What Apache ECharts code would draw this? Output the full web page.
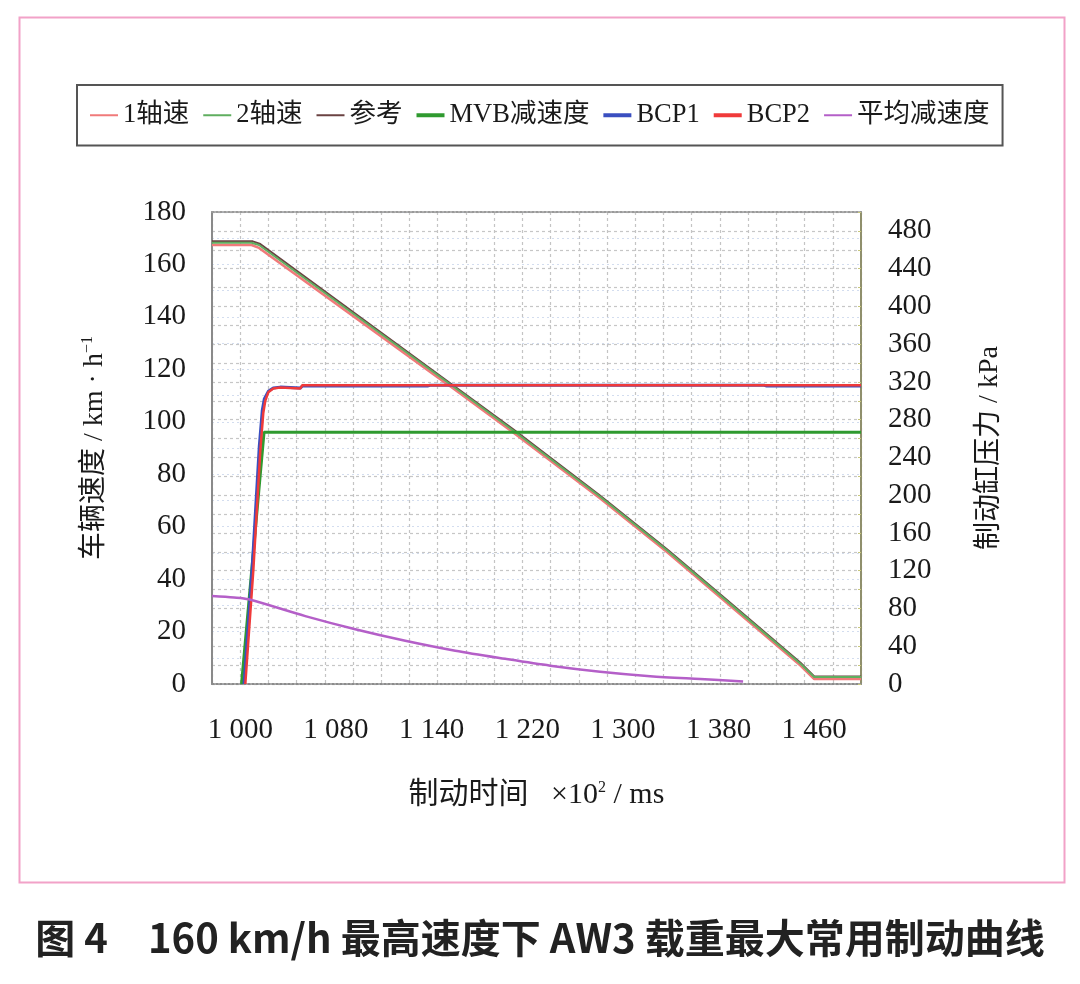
<!DOCTYPE html>
<html>
<head>
<meta charset="utf-8">
<script src="https://cdn.jsdelivr.net/npm/echarts@6/dist/echarts.min.js"></script>
<style>
html,body{margin:0;padding:0;background:#fff;}
#chart{width:1080px;height:984px;}
</style>
</head>
<body>
<div id="chart"></div>
<script>
// ---- data (x: braking time, ×10² ms ; speeds in km/h ; pressures in kPa) ----
var xTickValues = [1000, 1076.67, 1153.33, 1230, 1306.67, 1383.33, 1460];
var xTickLabels = ['1 000', '1 080', '1 140', '1 220', '1 300', '1 380', '1 460'];
var leftTicks = [0, 20, 40, 60, 80, 100, 120, 140, 160, 180];
var rightTicks = [0, 40, 80, 120, 160, 200, 240, 280, 320, 360, 400, 440, 480];
var seriesNames = ['1轴速', '2轴速', '参考', 'MVB减速度', 'BCP1', 'BCP2', '平均减速度'];

var axle1Speed = [[977.3,167.4],[1009,167.4],[1015,166.3],[1168,113.6],[1219,95.8],[1288,70.9],[1342,50.3],[1395,28.9],[1449,7.0],[1460,1.9],[1497.5,1.9]];
var axle2Speed = [[977.3,168.3],[1009,168.3],[1015,167.4],[1168,114.4],[1219,96.6],[1288,71.6],[1342,51.0],[1395,29.6],[1449,7.7],[1460,2.7],[1497.5,2.7]];
var refSpeed   = [[977.3,168.8],[1010,168.8],[1016,167.8],[1168,114.8],[1219,97.0],[1288,72.0],[1342,51.4],[1395,30.0],[1449,8.1],[1460,2.9],[1497.5,2.9]];
var mvbDecel   = [[1001,0],[1019,96],[1497.5,96]];
var bcp1       = [[1003,0],[1009.6,125],[1015.2,252],[1017.6,290],[1019.2,302],[1022.4,310],[1026.4,313.5],[1032,314.5],[1048,313.5],[1049.7,315.6],[1150,315.6],[1152,316.5],[1420,316.5],[1422,315.6],[1497.5,315.6]];
var bcp2       = [[1004,0],[1010.4,120],[1016,247],[1018.4,287],[1020,300],[1022.4,309],[1026.4,313],[1032,314],[1048,313],[1049.7,316.5],[1497.5,316.5]];
var avgDecel   = [[977.3,33.6],[995,33.0],[1006.6,32.3],[1052.1,25.9],[1092.1,20.9],[1132.2,16.5],[1172.3,12.7],[1212.3,9.6],[1248.4,7.0],[1288.4,4.7],[1328.5,3.0],[1368.6,1.9],[1403,1.0]];

var SERIF = "'Liberation Serif','Times New Roman','Noto Sans CJK SC',serif";
var TXT = '#1a1a1a';
var chart = echarts.init(document.getElementById('chart'), null, {renderer: 'canvas'});

function lineSeries(name, data, color, width, yIdx, z, smooth) {
  return {
    name: name, type: 'line', data: data, xAxisIndex: 0, yAxisIndex: yIdx,
    symbol: 'none', smooth: smooth || false, z: z, animation: false,
    lineStyle: {color: color, width: width}, itemStyle: {color: color}
  };
}

var THIN = 'path://M0,0H28V2H0Z';
var THICK = 'path://M0,0H28V4H0Z';
var legendIcons = [THIN, THIN, THIN, THICK, THICK, THICK, THIN];

var option = {
  animation: false,
  backgroundColor: '#ffffff',
  grid: {left: 212, right: 219, top: 212, bottom: 300, containLabel: false},
  legend: {
    left: 77, top: 85,
    data: seriesNames.map(function (n, i) { return {name: n, icon: legendIcons[i]}; }),
    itemWidth: 28, itemHeight: 14, itemGap: 14,
    padding: [17, 13, 17, 13],
    borderColor: '#555', borderWidth: 2, borderRadius: 0,
    textStyle: {fontFamily: SERIF, fontSize: 26.5, color: TXT}
  },
  xAxis: [
    {
      type: 'value', min: 977.3, max: 1497.5, position: 'bottom',
      axisLine: {show: true, onZero: false, lineStyle: {color: '#8c8c8c', width: 2, type: [2, 2]}},
      axisTick: {show: false},
      splitLine: {show: false},
      axisLabel: {
        customValues: xTickValues, margin: 32,
        fontFamily: SERIF, fontSize: 29, color: TXT,
        formatter: function (v) {
          for (var i = 0; i < xTickValues.length; i++) {
            if (Math.abs(xTickValues[i] - v) < 0.05) return xTickLabels[i];
          }
          return '';
        }
      },
      name: '制动时间   ×10{sup|2} / ms', nameLocation: 'middle', nameGap: 96,
      nameTextStyle: {fontFamily: SERIF, fontSize: 30, color: TXT,
        rich: {sup: {fontFamily: SERIF, fontSize: 16, color: TXT, verticalAlign: 'top', padding: [0, 0, 14, 0]}}}
    },
    {
      type: 'value', min: 0, max: 23, interval: 1, position: 'top',
      axisLine: {show: true, onZero: false, lineStyle: {color: '#9a9a9a', width: 2, type: [2, 2]}},
      axisTick: {show: false}, axisLabel: {show: false},
      splitLine: {show: true, lineStyle: {color: '#c4c4c4', width: 1.2, type: [3, 3]}}
    }
  ],
  yAxis: [
    {
      type: 'value', min: 0, max: 180, interval: 20, position: 'left',
      axisLine: {show: true, onZero: false, lineStyle: {color: '#8a8a8a', width: 2}},
      axisTick: {show: false},
      axisLabel: {margin: 26, fontFamily: SERIF, fontSize: 29, color: TXT,
        formatter: function (v) { return leftTicks.indexOf(v) >= 0 ? String(v) : ''; }},
      splitLine: {show: true, lineStyle: {color: '#d3ddef', width: 1.2, type: [2, 3]}},
      minorTick: {show: false, splitNumber: 2},
      minorSplitLine: {show: true, lineStyle: {color: '#d3ddef', width: 1.2, type: [2, 3]}},
      name: '车辆速度 / km · h{sup|−1}', nameLocation: 'middle', nameGap: 102, nameRotate: 90,
      nameTextStyle: {fontFamily: SERIF, fontSize: 28, color: TXT,
        rich: {sup: {fontFamily: SERIF, fontSize: 16, color: TXT, verticalAlign: 'top', padding: [0, 0, 14, 0]}}}
    },
    {
      type: 'value', min: 0, max: 500, interval: 20, position: 'right',
      axisLine: {show: true, onZero: false, lineStyle: {color: '#8f8f6c', width: 2}},
      axisTick: {show: true, inside: true, length: 3, lineStyle: {color: '#c8c87a', width: 1}},
      axisLabel: {margin: 27, fontFamily: SERIF, fontSize: 29, color: TXT,
        formatter: function (v) { return rightTicks.indexOf(v) >= 0 ? String(v) : ''; }},
      splitLine: {show: true, lineStyle: {color: '#c6c6c6', width: 1.2, type: [3, 3]}},
      name: '制动缸压力 / kPa', nameLocation: 'middle', nameGap: 115, nameRotate: 90,
      nameTextStyle: {fontFamily: SERIF, fontSize: 28, color: TXT}
    }
  ],
  series: [
    lineSeries(seriesNames[0], axle1Speed, '#f07a7a', 2.5, 0, 3),
    lineSeries(seriesNames[2], refSpeed, '#6a4242', 2, 0, 4),
    lineSeries(seriesNames[1], axle2Speed, '#5fae5f', 2, 0, 5),
    lineSeries(seriesNames[3], mvbDecel, '#2f9a2f', 3, 0, 6),
    lineSeries(seriesNames[4], bcp1, '#3a4fc0', 3, 1, 7),
    lineSeries(seriesNames[5], bcp2, '#f03a3a', 2.5, 1, 8),
    lineSeries(seriesNames[6], avgDecel, '#b45fc8', 2.5, 0, 9, 0.3)
  ],
  graphic: [
    {type: 'rect', left: 17, top: 15, silent: true, z: -1,
     shape: {width: 1045, height: 865},
     style: {fill: 'none', stroke: '#f2a2c8', lineWidth: 2}},
    {type: 'text', left: 'center', top: 918, silent: true,
     style: {text: '图 4　160 km/h 最高速度下 AW3 载重最大常用制动曲线',
             font: "bold 40px 'Noto Sans CJK SC', 'Noto Sans', sans-serif", fill: '#222'}}
  ]
};
chart.setOption(option);
</script>
</body>
</html>
